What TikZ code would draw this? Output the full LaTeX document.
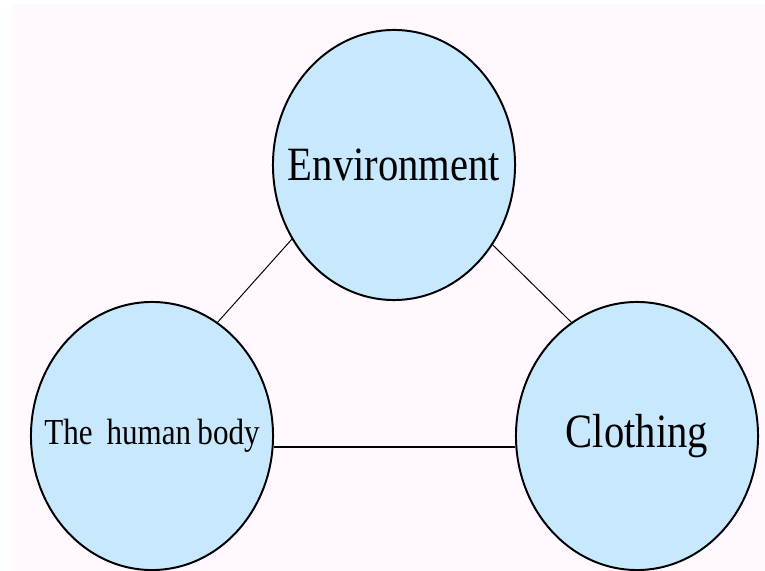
\documentclass[tikz,border=0pt]{standalone}
\usepackage{fontspec}
\usetikzlibrary{shapes.geometric}
\newfontfamily\blobfont[FakeStretch=0.85]{Liberation Serif}
\definecolor{slidepink}{RGB}{255,248,255}
\definecolor{blobblue}{RGB}{200,232,254}

\begin{document}
\begin{tikzpicture}[x=0.025cm,y=-0.025cm,
  blob/.style={ellipse,draw=black,line width=1.4pt,fill=blobblue,
    minimum width=6.05cm,minimum height=6.7cm,inner sep=-2cm,font=\blobfont},
  link/.style={draw=black,line width=0.7pt}]
\useasboundingbox (0,0) rectangle (765,571);
\fill[white] (0,0) rectangle (765,571);
\fill[slidepink] (11,4) rectangle (765,571);

\node[blob,minimum height=6.75cm,font=\blobfont\fontsize{34}{40}\selectfont] (env) at (394,165) {Environment};
\node[blob,font=\blobfont\fontsize{26}{30}\selectfont] (body) at (152,436) {The\, human\hspace{-1pt} body};
\node[blob,font=\blobfont\fontsize{34}{40}\selectfont] (cloth) at (637,436) {Clothing};

\draw[link] (env.216.5) -- (body.60.3);
\draw[link] (env.321) -- (cloth.120.4);
\draw[link,line width=1.4pt] (body.-5) -- (cloth.185);
\end{tikzpicture}
\end{document}
